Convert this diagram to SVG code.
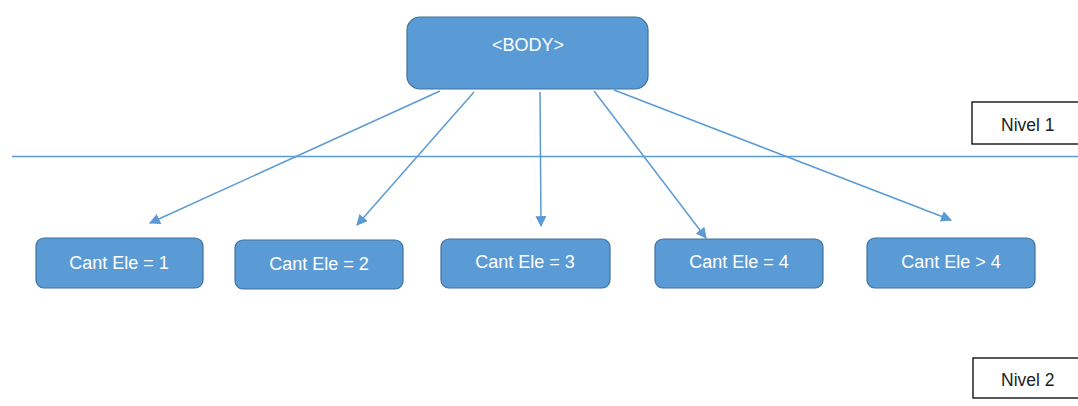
<svg xmlns="http://www.w3.org/2000/svg" width="1078" height="406" viewBox="0 0 1078 406">
<style>
.node{fill:#5B9BD5;stroke:#41719C;stroke-width:1.2}
.nt{font-family:"Liberation Sans",Arial,sans-serif;font-size:18px;fill:#FFFFFF;text-anchor:middle}
.lvl{fill:#FFFFFF;stroke:#000000;stroke-width:1.3}
.lt{font-family:"Liberation Sans",Arial,sans-serif;font-size:17.5px;fill:#222222}
.conn{stroke:#5B9BD5;stroke-width:1.5;fill:none;marker-end:url(#ah)}
</style>
<defs>
<marker id="ah" viewBox="0 0 10 10" refX="9" refY="5" markerWidth="11" markerHeight="11" markerUnits="userSpaceOnUse" orient="auto">
<path d="M0,0 L10,5 L0,10 z" fill="#5B9BD5"/>
</marker>
</defs>
<rect width="1078" height="406" fill="#FFFFFF"/>
<line x1="12" y1="156.5" x2="1078" y2="156.5" stroke="#5B9BD5" stroke-width="1.5"/>
<g id="connectors">
<line class="conn" x1="440" y1="91" x2="150" y2="223"/>
<line class="conn" x1="474" y1="92" x2="357" y2="225"/>
<line class="conn" x1="540" y1="92" x2="541" y2="226"/>
<line class="conn" x1="594" y1="91" x2="706" y2="238"/>
<line class="conn" x1="614" y1="90" x2="951" y2="220"/>
</g>
<g id="body">
<rect class="node" x="407" y="17" width="241" height="72" rx="13"/>
<text class="nt" x="528" y="51">&lt;BODY&gt;</text>
</g>
<g id="n1">
<rect class="node" x="36" y="238" width="167" height="50" rx="8"/>
<text class="nt" x="119" y="269">Cant Ele = 1</text>
</g>
<g id="n2">
<rect class="node" x="235" y="240" width="168" height="49" rx="8"/>
<text class="nt" x="319" y="270">Cant Ele = 2</text>
</g>
<g id="n3">
<rect class="node" x="441" y="239" width="169" height="49" rx="8"/>
<text class="nt" x="525" y="268">Cant Ele = 3</text>
</g>
<g id="n4">
<rect class="node" x="655" y="239" width="168" height="49" rx="8"/>
<text class="nt" x="739" y="268">Cant Ele = 4</text>
</g>
<g id="n5">
<rect class="node" x="867" y="238" width="168" height="50" rx="8"/>
<text class="nt" x="951" y="268">Cant Ele &gt; 4</text>
</g>
<g id="nivel1">
<rect class="lvl" x="972" y="102" width="120" height="42"/>
<text class="lt" x="1001" y="131">Nivel 1</text>
</g>
<g id="nivel2">
<rect class="lvl" x="973" y="358" width="120" height="40"/>
<text class="lt" x="1001" y="386">Nivel 2</text>
</g>
</svg>
